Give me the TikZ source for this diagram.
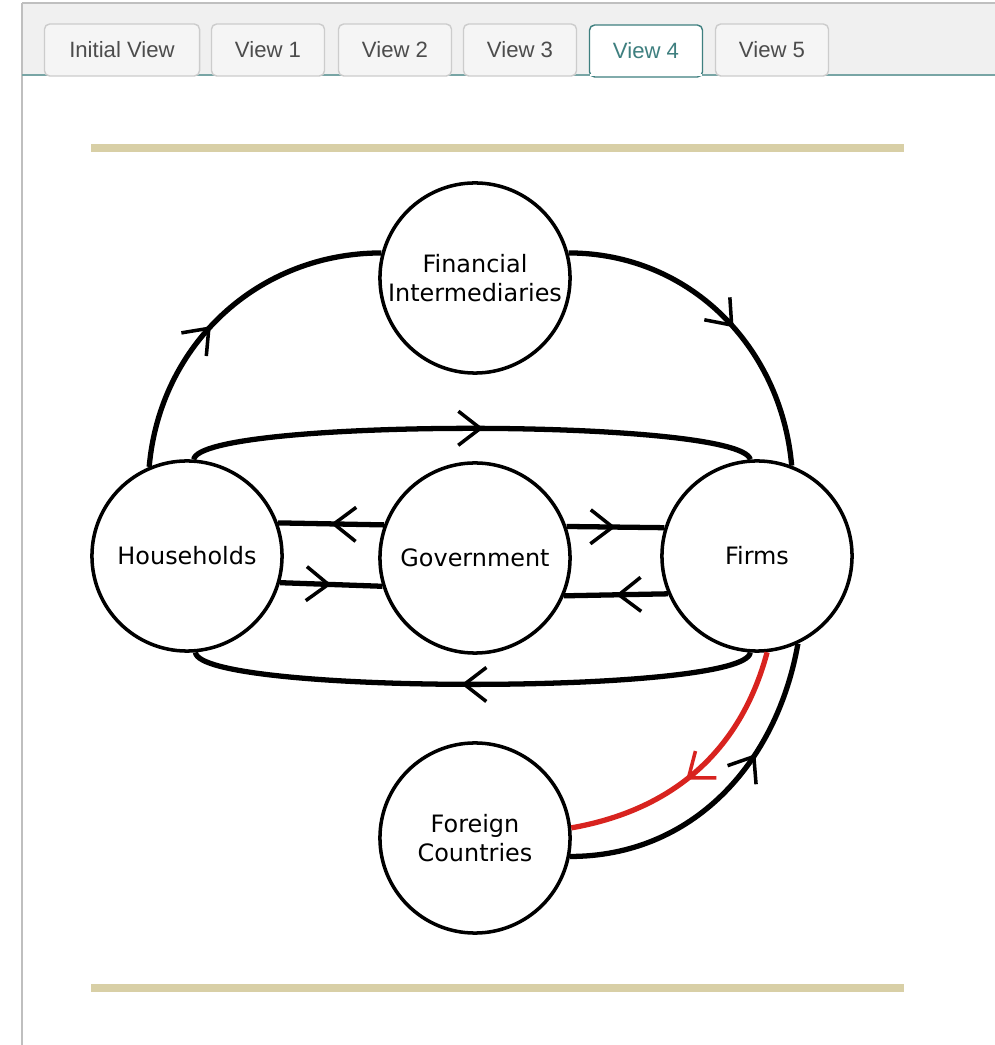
\documentclass[tikz,border=0pt]{standalone}
\usepackage{fontspec}
\setmainfont{DejaVu Sans}
\newfontfamily\tabfont{Liberation Sans}
\usetikzlibrary{arrows.meta,decorations.markings}
\definecolor{tan}{HTML}{D8CFA6}
\definecolor{teal}{HTML}{3E7F7F}
\definecolor{flowred}{HTML}{D8231F}
\tikzset{
  sector/.style={circle,draw,line width=1pt,minimum size=1.9cm,inner sep=0pt,align=center,
    font=\fontsize{6.8}{8.4}\selectfont},
  tab/.style={draw=gray!40,fill=gray!8,rounded corners=1.5pt,minimum height=0.52cm,
    font=\tabfont\fontsize{6.3}{7}\selectfont,text=gray!60!black},
  flow/.style={line width=1.5pt},
  midarrow/.style={postaction={decorate},decoration={markings,
    mark=at position #1 with {\arrow[line width=1pt]{Straight Barb[length=2.2mm,width=3.4mm]}}}}
}
\begin{document}
\begin{tikzpicture}[x=0.01cm,y=0.01cm]
  \useasboundingbox (0,0) rectangle (995,1045);
  % tab bar
  \fill[gray!12] (22,970) rectangle (995,1042);
  \draw[gray!50] (22,1042) -- (995,1042);
  \draw[gray!50] (22,1042) -- (22,0);
  \draw[teal!70] (22,970) -- (995,970);
  \node[tab,minimum width=1.55cm] (t0) at (122,995) {Initial View};
  \node[tab,minimum width=1.13cm] (t1) at (268,995) {View 1};
  \node[tab,minimum width=1.13cm] (t2) at (395,995) {View 2};
  \node[tab,minimum width=1.13cm] (t3) at (520,995) {View 3};
  \node[tab,minimum width=1.13cm,fill=white,draw=teal,text=teal] (t4) at (646,994) {View 4};
  \fill[white] (590,968.5) rectangle (702,971);
  \node[tab,minimum width=1.13cm] (t5) at (772,995) {View 5};
  % rules
  \draw[tan,line width=2pt] (91,897) -- (904,897);
  \draw[tan,line width=2pt] (91,57) -- (904,57);
  % sectors
  \node[sector] (fin) at (475,767) {Financial\\Intermediaries};
  \node[sector] (hh) at (187,489) {Households};
  \node[sector] (gov) at (475,487) {Government};
  \node[sector] (firm) at (757,489) {Firms};
  \node[sector] (for) at (475,207) {Foreign\\Countries};
  % flows
  \draw[flow,midarrow=0.45] (hh.113) to[out=85,in=180] (fin.165);
  \draw[flow,midarrow=0.55] (fin.15) to[out=0,in=95] (firm.69);
  \draw[flow,midarrow=0.52] (hh.86) .. controls (200,627) and (740,627) .. (firm.94);
  \draw[flow,midarrow=0.52] (firm.266) .. controls (745,350) and (200,350) .. (hh.275);
  \draw[flow,midarrow=0.5] (gov.160) -- (hh.20);
  \draw[flow,midarrow=0.5] (hh.-16) -- (gov.-163);
  \draw[flow,midarrow=0.5] (gov.19) -- (firm.163);
  \draw[flow,midarrow=0.5] (firm.-157) -- (gov.-23);
  \draw[flow,flowred,midarrow=0.55] (firm.-84) to[out=-105,in=10] (for.6);
  \draw[flow,midarrow=0.65] (for.-11) to[out=0,in=-100] (firm.-65);
\end{tikzpicture}
\end{document}
